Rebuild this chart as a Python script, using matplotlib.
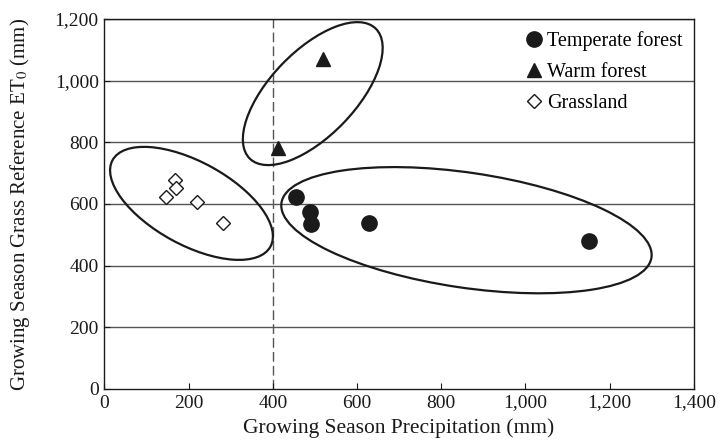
import numpy as np
import matplotlib
matplotlib.use("Agg")
import matplotlib.pyplot as plt
from matplotlib.patches import Ellipse
from matplotlib.transforms import ScaledTranslation
import matplotlib.ticker as ptick

plt.rcParams['font.family'] = ['Liberation Serif', 'DejaVu Serif']
plt.rcParams['mathtext.fontset'] = 'stix'

# data
temperate_x = [456, 489, 491, 628, 1152]
temperate_y = [623, 574, 535, 538, 480]
warm_x = [413, 519]
warm_y = [782, 1070]
grass_x = [168, 170, 146, 220, 283]
grass_y = [678, 652, 623, 607, 538]

# grouping ellipses: centre (data), width/height (inches), angle (deg)
ell_centres = [(207, 602), (495, 958), (860, 515)]
ell_sizes = [(1.80, 0.83), (1.81, 0.85), (3.74, 1.15)]
ell_angles = [-28.7, 46.0, -8.4]

xticks = np.arange(0, 1401, 200)
yticks = np.arange(0, 1201, 200)

fig = plt.figure(figsize = (7.22, 4.47), dpi = 100)
ax = fig.add_axes([0.1445, 0.1298, 0.8165, 0.8277])

for yy in yticks[1:]:
    ax.axhline(y = yy, color = '#555555', lw = 1.0, zorder = 1)
ax.axvline(x = 400, color = '#555555', lw = 1.0, linestyle = (0, (7, 3)), zorder = 1)

for (cx, cy), (w, h), ang in zip(ell_centres, ell_sizes, ell_angles):
    e = Ellipse((0, 0), w, h, angle = ang, fill = False, edgecolor = '#1a1a1a', lw = 1.6,
                transform = fig.dpi_scale_trans + ScaledTranslation(cx, cy, ax.transData), zorder = 2)
    ax.add_patch(e)

ax.plot(temperate_x, temperate_y, 'o', color = '#1a1a1a', markersize = 11, label = 'Temperate forest', zorder = 3)
ax.plot(warm_x, warm_y, '^', color = '#1a1a1a', markersize = 10.5, label = 'Warm forest', zorder = 3)
ax.plot(grass_x, grass_y, 'D', markerfacecolor = 'white', markeredgecolor = '#1a1a1a', markeredgewidth = 1.0,
        markersize = 7.5, label = 'Grassland', zorder = 3)

ax.set_xlim(0, 1400)
ax.set_ylim(0, 1200)
ax.set_xticks(xticks)
ax.set_yticks(yticks)
ax.xaxis.set_major_formatter(ptick.StrMethodFormatter('{x:,.0f}'))
ax.yaxis.set_major_formatter(ptick.StrMethodFormatter('{x:,.0f}'))
ax.tick_params(direction = 'in', length = 4, labelsize = 14, colors = '#1a1a1a', pad = 4)
ax.set_xlabel('Growing Season Precipitation (mm)', fontsize = 15.5, color = '#1a1a1a', labelpad = 5)
ax.set_ylabel('Growing Season Grass Reference ET$_0$ (mm)', fontsize = 15, color = '#1a1a1a', labelpad = 16)
for s in ax.spines.values():
    s.set_color('#1a1a1a')
    s.set_linewidth(1.0)

ax.legend(loc = 'upper right', bbox_to_anchor = (0.995, 0.99), frameon = False, fontsize = 14.5,
          handletextpad = 0.15, labelspacing = 0.6, borderaxespad = 0.0, handlelength = 1.0)

fig.savefig('out.png', dpi = 100)
